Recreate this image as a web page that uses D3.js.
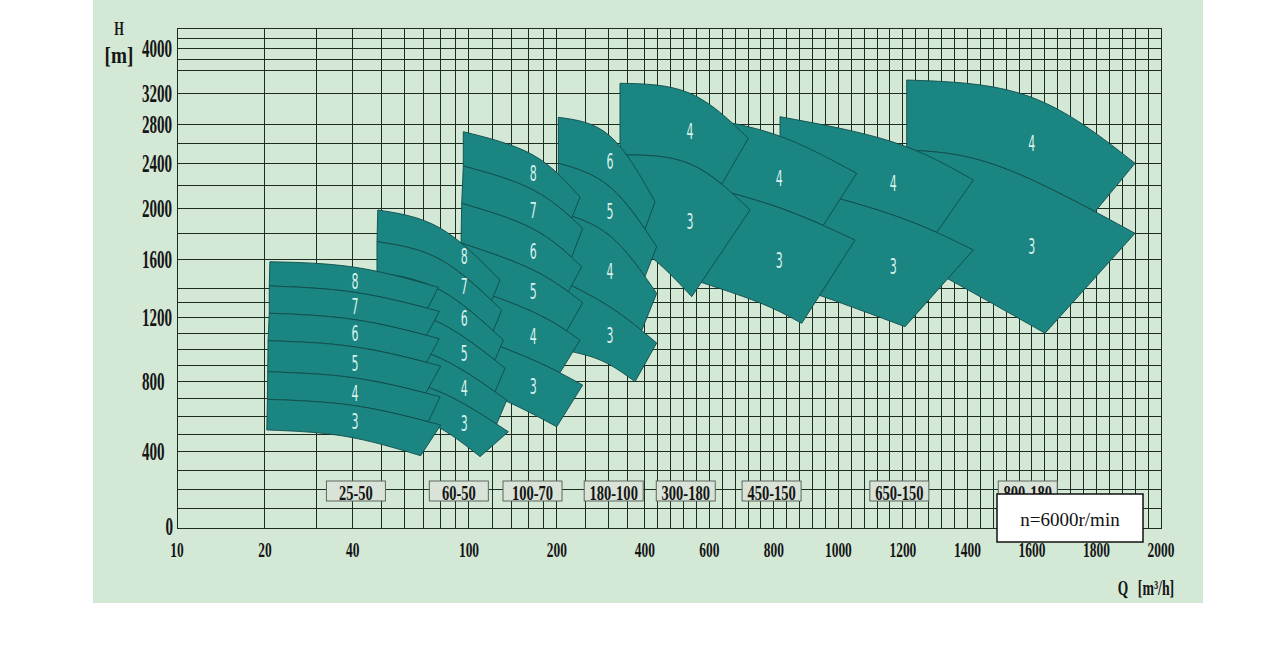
<!DOCTYPE html>
<html><head><meta charset="utf-8">
<script src="https://cdn.jsdelivr.net/npm/d3@7"></script>
<style>body{margin:0;background:#fff;} svg{display:block;}</style>
</head><body>
<svg id="chart" width="1286" height="670"></svg>
<script>
// ---------- data ----------
const xTickValues = [10,20,40,100,200,400,600,800,1000,1200,1400,1600,1800,2000];
const yTickValues = [0,400,800,1200,1600,2000,2400,2800,3200,4000];
const xGridLog = [20,30,40,50,60,70,80,90,100,120,140,160,180,200,250,300,350,400];
const yGridValues = [100,200,300,400,500,600,700,800,900,1000,1100,1200,1300,1400,1600,1800,2000,2200,2400,2600,2800,3200,3600,3800,4000,4200];

const modelNames = ["25-50","60-50","100-70","180-100","300-180","450-150","650-150","800-180"];
const modelLabelQ = [41,92.3,165,313,527,793,1189,1587];
const modelLabelH = [194,194,194,194,194,194,194,194];
const modelStages = [[3,4,5,6,7,8],[3,4,5,6,7,8],[3,4,5,6,7,8],[3,4,5,6],[3,4],[3,4],[3,4],[3,4]];

// head curves per model (bottom boundary first), each curve = [[Q,H] left, mid, right]
const curves2550 = [
  [[20.3,523],[37.6,487],[68.3,379]],
  [[20.4,696],[40.7,660],[80.0,551]],
  [[20.45,858],[40.7,819],[79.6,711]],
  [[20.5,1053],[40.7,1014],[80.0,894]],
  [[20.7,1228],[40.7,1185],[79.1,1066]],
  [[20.7,1416],[40.7,1372],[79.1,1241]],
  [[20.8,1583],[40.7,1545],[78.5,1407]]];
const curves6050 = [
  [[48.4,631],[73.5,562],[109.1,374]],
  [[48.4,833],[79.6,738],[136.4,513]],
  [[48.4,1052],[79.6,944],[134.7,692]],
  [[48.4,1279],[79.6,1164],[132.9,880]],
  [[48.4,1509],[79.6,1388],[131.1,1057]],
  [[48.4,1738],[79.6,1599],[129.4,1250]],
  [[48.7,1987],[79.6,1845],[127.7,1457]]];
const curves10070 = [
  [[93.9,789],[138.2,676],[199.7,541]],
  [[93.9,1108],[165.7,932],[245.1,777]],
  [[93.9,1423],[165.7,1237],[240,1057]],
  [[93.9,1728],[165.7,1526],[245.1,1301]],
  [[94.4,2044],[165.7,1838],[243.2,1549]],
  [[95.6,2376],[165.7,2163],[245.1,1843]],
  [[95.6,2724],[165.7,2485],[240,2098]]];
const curves180100 = [
  [[201.7,1001],[280.9,932],[370.3,796]],
  [[201.7,1464],[304,1271],[436.9,1039]],
  [[201.7,1971],[304,1783],[436.9,1365]],
  [[202.2,2400],[304,2189],[436.9,1699]],
  [[202.2,2890],[304,2680],[431.6,2059]]];
const curves300180 = [
  [[328.9,1791],[436.9,1583],[545.4,1342]],
  [[328.9,2485],[540,2394],[726.1,1987]],
  [[328.9,3378],[540,3200],[720.8,2656]]];
const curves450150 = [
  [[561.8,1450],[757.1,1299],[886.4,1162]],
  [[561.8,2216],[819.1,2003],[1051.6,1751]],
  [[561.8,2894],[808.9,2690],[1056.8,2311]]];
const curves650150 = [
  [[819.1,1437],[953.3,1342],[1206.6,1141]],
  [[819.1,2225],[1169.4,1947],[1418.3,1673]],
  [[819.1,2898],[1169.4,2618],[1418.3,2252]]];
const curves800180 = [
  [[1211.8,1610],[1346,1457],[1640.5,1100]],
  [[1211.8,2536],[1501,2370],[1919.5,1804]],
  [[1211.8,3436],[1594,3156],[1919.5,2400]]];
const modelCurves = [curves2550,curves6050,curves10070,curves180100,curves300180,curves450150,curves650150,curves800180];

// Q where each stage band's right edge meets its lower boundary
const modelCutQ = [
  [68.3,72.6,71.1,71.6,71.6,72.2],
  [109.1,124.4,122.7,122.7,121.1,119.6],
  [199.7,204.9,216,218.8,224.7,224.7],
  [370.3,390.3,400.6,400.6],
  [545.4,638.4],
  [886.4,953.3],
  [1206.6,1304.8],
  [1640.5,1795.5]];

// stage number label positions
const stageLabelQ = [40.7,96.4,166,304,540,817,1170,1599];
const stageLabelH = [
  [570,730,911,1100,1273,1446],
  [561,759,974,1194,1411,1620],
  [768,1078,1377,1660,1987,2311],
  [1089,1514,1973,2416],
  [1895,2724],
  [1595,2267],
  [1549,2222],
  [1699,2605]];

const speedText = "n=6000r/min";

// ---------- drawing ----------
const svg = d3.select("#chart");
const COL = {panel:"#d3e8d5", grid:"#1c2e22", fill:"#1b8581", edge:"#0f4c49", num:"#d8f1ec", text:"#151515"};
const SERIF = "'Liberation Serif','DejaVu Serif',serif";

svg.append("rect").attr("x",93).attr("y",0).attr("width",1110).attr("height",603).attr("fill",COL.panel);

const xLog = d3.scaleLog().domain([10,400]).range([177,644.8]);
const xLin = d3.scaleLinear().domain([400,2000]).range([644.8,1161]);
const x = q => q <= 400 ? xLog(q) : xLin(q);
const y = d3.scaleLinear()
  .domain([0,400,800,1200,1600,2000,2400,2800,3200,4000,4400])
  .range([528,451.7,381,317.3,259.3,208.3,163.3,124.3,93.3,48.3,28.3]);
const X0 = x(10), X1 = x(2000), Y0 = y(0), Y1 = y(4400);

const grid = svg.append("g").attr("stroke",COL.grid).attr("stroke-width",1).attr("shape-rendering","crispEdges");
const xGrid = xGridLog.concat(d3.range(440, 2000, 40));
xGrid.forEach(q => grid.append("line").attr("x1",x(q)).attr("x2",x(q)).attr("y1",Y1).attr("y2",Y0));
yGridValues.forEach(h => grid.append("line").attr("x1",X0).attr("x2",X1).attr("y1",y(h)).attr("y2",y(h)));
grid.append("rect").attr("x",X0).attr("y",Y1).attr("width",X1-X0).attr("height",Y0-Y1).attr("fill","none");

function ctext(g, px, py, str, size, sx, anchor, fill, family, weight) {
  return g.append("text")
    .attr("transform", `translate(${px},${py}) scale(${sx},1)`)
    .attr("text-anchor", anchor).attr("dominant-baseline","central")
    .attr("font-family", family || SERIF).attr("font-size", size)
    .attr("font-weight", weight || "normal")
    .attr("fill", fill || COL.text).text(str);
}

// model name boxes (under the curves)
const boxes = svg.append("g");
modelNames.forEach((m,i) => {
  const cx = x(modelLabelQ[i]), cy = y(modelLabelH[i]);
  boxes.append("rect").attr("x",cx-29.5).attr("y",cy-10).attr("width",59).attr("height",20)
    .attr("fill","#d9e3d8").attr("stroke","#5e665e").attr("stroke-width",1);
  ctext(boxes, cx, cy+1, m, 22, 0.66, "middle", COL.text, SERIF, "bold");
});

const line = d3.line().curve(d3.curveNatural);
const shapes = svg.append("g");
for (let m = modelNames.length - 1; m >= 0; m--) {
  const g = shapes.append("g");
  const curves = modelCurves[m].map(c => c.map(p => [x(p[0]), y(p[1])]));
  const nb = modelStages[m].length;
  for (let i = nb - 1; i >= 0; i--) {
    const upper = curves[i+1], lower = curves[i];
    const tmp = svg.append("path").attr("d", line(lower)).attr("fill","none");
    const node = tmp.node(), L = node.getTotalLength();
    const cutX = x(modelCutQ[m][i]);
    let lo = 0, hi = L;
    for (let k = 0; k < 40; k++) { const mid = (lo+hi)/2; if (node.getPointAtLength(mid).x < cutX) lo = mid; else hi = mid; }
    const pts = [];
    for (let s = lo; s > 0; s -= 2) { const p = node.getPointAtLength(s); pts.push([p.x,p.y]); }
    const p0 = node.getPointAtLength(0); pts.push([p0.x,p0.y]);
    tmp.remove();
    const d = line(upper) + pts.map(p => `L${p[0]},${p[1]}`).join("") + "Z";
    g.append("path").attr("d", d).attr("fill", COL.fill).attr("stroke", COL.edge)
      .attr("stroke-width", 0.9).attr("stroke-linejoin","round");
  }
  modelStages[m].forEach((s,i) => {
    ctext(g, x(stageLabelQ[m]), y(stageLabelH[m][i]), String(s), 22, 0.5, "middle", COL.num, "'DejaVu Sans','Liberation Sans',sans-serif");
  });
}

// axes labels
const ax = svg.append("g");
yTickValues.forEach(v => {
  if (v === 0) ctext(ax, 173, y(v)-2, String(v), 26, 0.58, "end", COL.text, SERIF, "bold");
  else ctext(ax, 142, y(v), String(v), 26, 0.58, "start", COL.text, SERIF, "bold");
});
xTickValues.forEach(v => ctext(ax, x(v), 550, String(v), 21, 0.64, "middle", COL.text, SERIF, "bold"));
ctext(ax, 119, 28, "H", 19, 0.65, "middle", COL.text, SERIF, "bold");
ctext(ax, 119, 55, "[m]", 24, 0.8, "middle", COL.text, SERIF, "bold");
ctext(ax, 1123, 588, "Q", 21, 0.64, "middle", COL.text, SERIF, "bold");
ctext(ax, 1156, 588, "[m³/h]", 21, 0.66, "middle", COL.text, SERIF, "bold");

// speed legend
const lg = svg.append("g");
lg.append("rect").attr("x",997).attr("y",494).attr("width",146).attr("height",48)
  .attr("fill","#fff").attr("stroke","#111").attr("stroke-width",1.5);
lg.append("text").attr("x",1070).attr("y",519).attr("text-anchor","middle").attr("dominant-baseline","central")
  .attr("font-family",SERIF).attr("font-size",19).attr("fill","#111").text(speedText);
</script>
</body></html>
